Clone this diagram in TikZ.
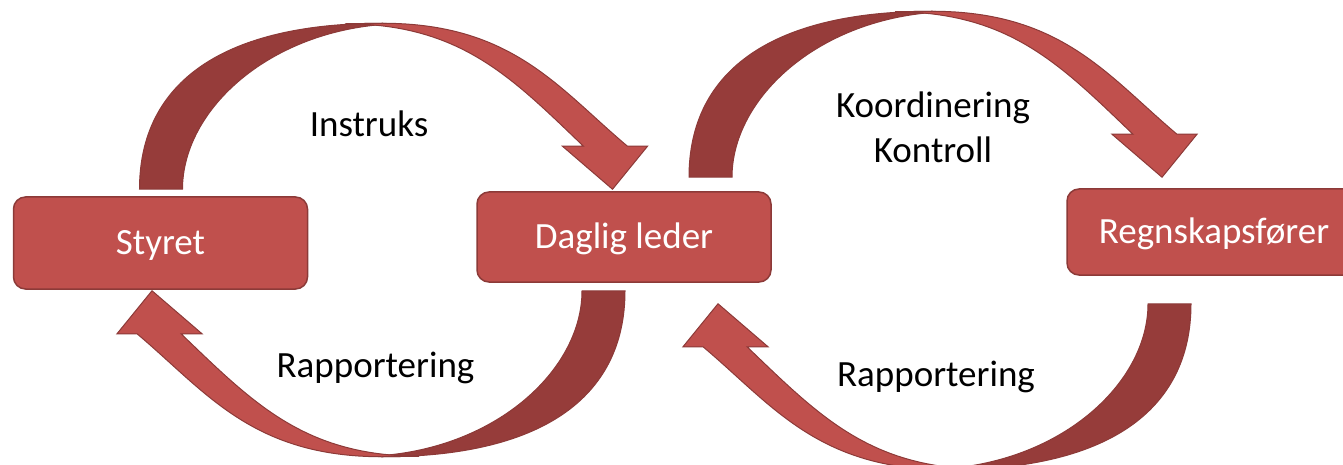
\documentclass[tikz,border=0pt]{standalone}
\usepackage{fontspec}
\setmainfont{Carlito}
\usetikzlibrary{calc}
\definecolor{boxred}{HTML}{C0504D}
\definecolor{boxedge}{HTML}{8C3A38}
\definecolor{backred}{HTML}{963C3A}
% one curved ribbon arrow, tail at the origin, head to the right
\def\looparrow[#1]{%
	\begin{scope}[#1]
		\draw[arrowedge, fill=backred] (-21,0) .. controls (-21,-108) and (64,-166) .. (222,-166) -- (232,-165.4) .. controls (110,-160) and (22,-80) .. (22,0) -- cycle;
		\draw[arrowedge, fill=boxred] (185,-165.5) -- (222,-166) .. controls (352,-166) and (398,-101) .. (467,-43) -- (487,-43) -- (452,0) -- (402,-43) -- (423,-43) .. controls (351,-112) and (300,-165) .. (185,-165.5) -- cycle;
	\end{scope}}

\begin{document}
\begin{tikzpicture}[x=1pt, y=-1pt,
	box/.style={rectangle, rounded corners=12pt, draw=boxedge, line width=1.5pt, fill=boxred, text=white, minimum width=294pt, minimum height=90pt, font=\fontsize{37}{44}\selectfont, text height=23.5pt, text depth=0pt},
	flowtext/.style={font=\fontsize{37}{45}\selectfont, inner sep=0pt},
	arrowedge/.style={draw=boxedge, line width=1pt}]
			%%%%% START %%%%%
			\useasboundingbox (0,0) rectangle (1343,465);
			\clip (0,0) rectangle (1343,465);
			
			\node[box, minimum height=92pt] (styret) at (160.5,243) {Styret};
			\node[box] (daglig) at (624,237) {Daglig leder};
			\node[box, minimum height=86pt] (regnskap) at (1214,232) {Regnskapsfører};
			
			\looparrow[shift={($(styret.north)+(0,-7)$)}];
			\looparrow[shift={($(daglig.south)+(-20,8)$)}, rotate=180];
			\looparrow[shift={($(daglig.north)+(86,-14)$)}];
			\looparrow[shift={($(regnskap.south)+(-44,28)$)}, rotate=180];
			
			\node[flowtext, anchor=base] (instruks) at (369,137) {Instruks};
			\node[flowtext, anchor=base] (rapp1) at (375.5,377) {Rapportering};
			\node[flowtext, anchor=base, align=center] (koord) at (933,163) {Koordinering\\Kontroll};
			\node[flowtext, anchor=base] (rapp2) at (936,386) {Rapportering};
			%%%%% END %%%%%
\end{tikzpicture}
\end{document}
